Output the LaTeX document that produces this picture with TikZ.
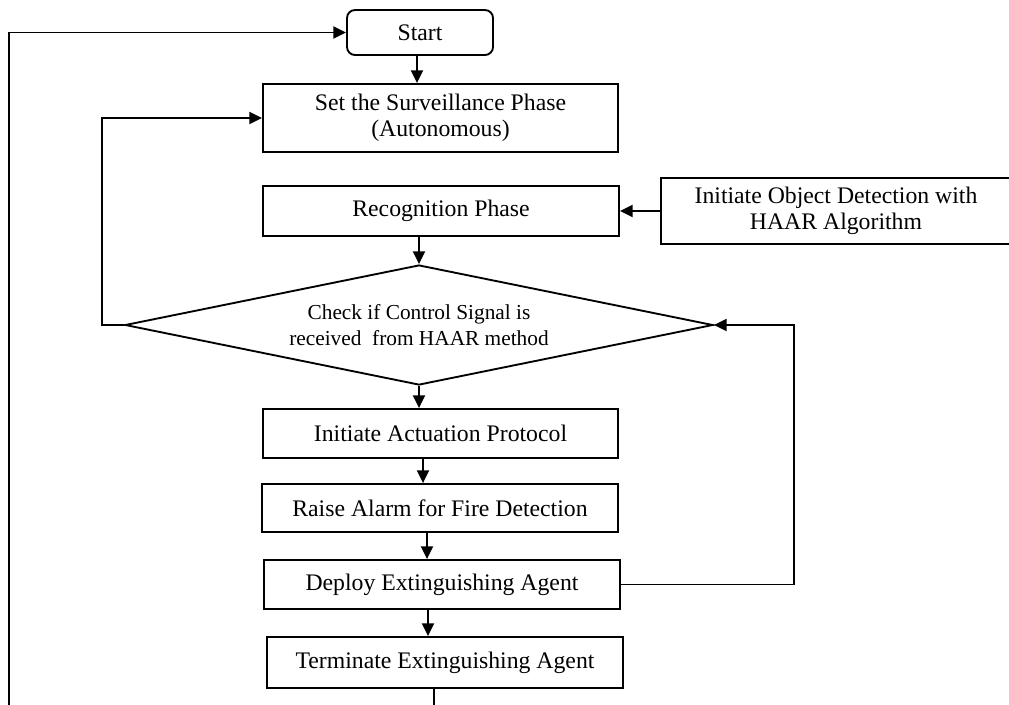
\documentclass[tikz,border=0pt]{standalone}
\usepackage{fontspec}
\setmainfont{Liberation Serif}
\usetikzlibrary{shapes.geometric,arrows.meta}
\begin{document}
\begin{tikzpicture}[x=0.75pt,y=-0.75pt,
  every node/.style={font=\fontsize{17.8}{19.5}\selectfont, align=center, inner sep=0pt},
  box/.style={draw, rectangle, line width=1.4pt},
  link/.style={line width=1.4pt, -{Triangle[length=9.5pt,width=9pt]}},
  plain/.style={line width=1.4pt}]
\useasboundingbox (0,0) rectangle (1009,704);
\clip (0,0) rectangle (1009,704);
\fill[white] (0,0) rectangle (1009,704);
% nodes
\node[box, rounded corners=6pt, minimum width=109.5pt, minimum height=33.75pt] (start) at (420,32.5) {Start};
\node[box, minimum width=266.25pt, minimum height=51pt] (set) at (440.5,118) {Set the Surveillance Phase\\(Autonomous)};
\node[box, minimum width=267pt, minimum height=37.5pt] (recog) at (441,211) {Recognition Phase};
\node[box, minimum width=262.5pt, minimum height=49.5pt] (haar) at (836,211) {Initiate Object Detection with\\HAAR Algorithm};
\node[draw, diamond, aspect=4.9, line width=1.4pt, minimum width=441pt, minimum height=90pt, font=\fontsize{16}{19}\selectfont] (dia) at (419,325) {Check if Control Signal is\\received\ \ from HAAR method};
\node[box, minimum width=266.25pt, minimum height=36.75pt] (act) at (440.5,433.5) {Initiate Actuation Protocol};
\node[box, minimum width=267pt, minimum height=36pt] (raise) at (440,508) {Raise Alarm for Fire Detection};
\node[box, minimum width=267pt, minimum height=36.75pt] (deploy) at (442,584.5) {Deploy Extinguishing Agent};
\node[box, minimum width=267pt, minimum height=38.25pt] (term) at (445,662.5) {Terminate Extinguishing Agent};
% connector columns
\coordinate (c1) at (417,0);
\coordinate (c4) at (423,0);
\coordinate (c5) at (427,0);
\coordinate (c6) at (428,0);
\coordinate (c7) at (434,0);
\coordinate (lx) at (9,0);
\coordinate (fb) at (794,0);
\coordinate (bot) at (0,730);
% connectors
\draw[link] (start.south -| c1) -- (set.north -| c1);
\draw[link] (recog.south -| dia.north) -- (dia.north);
\draw[link] (haar.west) -- (recog.east);
\draw[link] (dia.south) -- (act.north -| dia.south);
\draw[link] (act.south -| c4) -- (raise.north -| c4);
\draw[link] (raise.south -| c5) -- (deploy.north -| c5);
\draw[link] (deploy.south -| c6) -- (term.north -| c6);
\draw[link] (dia.west) -- ++(-22,0) |- (set.west);
\draw[link] (deploy.east) -- (deploy.east -| fb) |- (dia.east);
\draw[link] (term.south -| c7) -- (c7 |- bot) -- (lx |- bot) |- (start.west);
\end{tikzpicture}
\end{document}
